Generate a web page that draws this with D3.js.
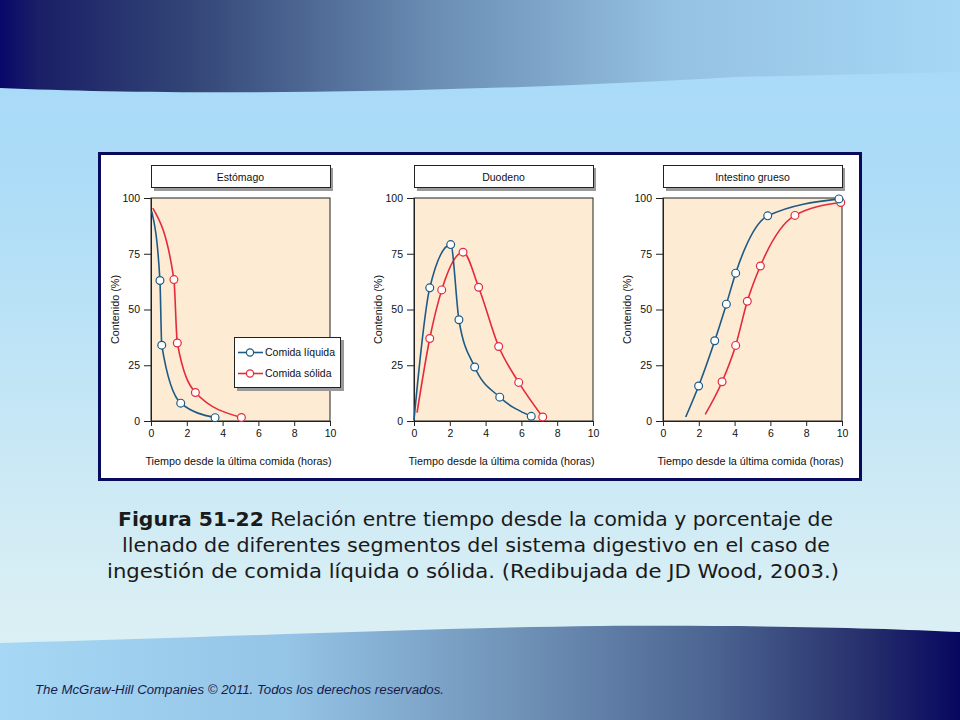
<!DOCTYPE html>
<html><head><meta charset="utf-8">
<script src="https://cdn.jsdelivr.net/npm/d3@7"></script>
<style>html,body{margin:0;padding:0;background:#a9dbf7;}svg{display:block;}</style>
</head><body>
<svg id="c" width="960" height="720"></svg>
<script>
// ---- data ----
const panelTitles = ["Estómago", "Duodeno", "Intestino grueso"];
const seriesNames = ["Comida líquida", "Comida sólida"];
const xTicks = [0, 2, 4, 6, 8, 10];
const yTicks = [0, 25, 50, 75, 100];
const xLabel = "Tiempo desde la última comida (horas)";
const yLabel = "Contenido (%)";

// curve start (no marker) then marked points [hours, %]
const stomachLiquidStart = [0.04, 94];
const stomachLiquid = [[0.5, 63], [0.6, 34], [1.66, 8], [3.58, 1.5]];
const stomachSolidStart = [0.1, 95.5];
const stomachSolid = [[1.28, 63.4], [1.47, 35], [2.48, 12.8], [5.05, 1.6]];

const duodenumLiquidStart = [0.0, 0.5];
const duodenumLiquid = [[0.88, 59.7], [2.05, 79.1], [2.51, 45.4], [3.39, 24.2], [4.79, 10.7], [6.55, 2.1]];
const duodenumSolidStart = [0.17, 3.7];
const duodenumSolid = [[0.88, 37], [1.55, 58.8], [2.74, 75.7], [3.61, 60], [4.73, 33.4], [5.85, 17.3], [7.19, 1.8]];

const colonLiquidStart = [1.27, 1.8];
const colonLiquid = [[1.99, 15.7], [2.89, 36], [3.54, 52.4], [4.06, 66.3], [5.85, 92], [9.83, 99.6]];
const colonSolidStart = [2.36, 3];
const colonSolid = [[3.3, 17.6], [4.06, 33.9], [4.71, 53.7], [5.44, 69.5], [7.37, 92.2], [9.93, 98]];

const captionBold = "Figura 51-22";
const captionLines = [
  " Relación entre tiempo desde la comida y porcentaje de",
  "llenado de diferentes segmentos del sistema digestivo en el caso de",
  "ingestión de comida líquida o sólida. (Redibujada de JD Wood, 2003.)"
];
const footer = "The McGraw-Hill Companies © 2011. Todos los derechos reservados.";

// ---- styles ----
const BLUE = "#1d5a86", RED = "#e52a3a";
const FONT = "'Liberation Sans', Arial, sans-serif";

const svg = d3.select("#c");
const defs = svg.append("defs");

// background
const bg = defs.append("linearGradient").attr("id", "bg").attr("x1", 0).attr("y1", 0).attr("x2", 0).attr("y2", 1);
bg.append("stop").attr("offset", "0").attr("stop-color", "#a7d9f7");
bg.append("stop").attr("offset", "0.25").attr("stop-color", "#acdcf7");
bg.append("stop").attr("offset", "0.85").attr("stop-color", "#daeff4");
bg.append("stop").attr("offset", "1").attr("stop-color", "#dcf0f4");
svg.append("rect").attr("width", 960).attr("height", 720).attr("fill", "url(#bg)");

const tg = defs.append("linearGradient").attr("id", "tg").attr("x1", 0).attr("y1", 0).attr("x2", 1).attr("y2", 0);
[["0", "#08086a"], ["0.04", "#1a1f66"], ["0.2", "#334677"], ["0.45", "#6a8db3"], ["0.7", "#95c1e2"], ["1", "#a6d8f6"]]
  .forEach(s => tg.append("stop").attr("offset", s[0]).attr("stop-color", s[1]));
svg.append("path").attr("d", "M0,0 L960,0 L960,72 L735,77 C420,95 170,95 0,88 Z").attr("fill", "url(#tg)");

const bgr = defs.append("linearGradient").attr("id", "bgr").attr("x1", 0).attr("y1", 0).attr("x2", 1).attr("y2", 0);
[["0", "#a6d8f5"], ["0.3", "#94c4e6"], ["0.55", "#6e90b5"], ["0.75", "#4a6290"], ["0.9", "#27306c"], ["1", "#07075f"]]
  .forEach(s => bgr.append("stop").attr("offset", s[0]).attr("stop-color", s[1]));
svg.append("path").attr("d", "M0,643 C200,638 420,628 600,626 C760,625 880,628 960,632 L960,720 L0,720 Z").attr("fill", "url(#bgr)");

// figure frame
svg.append("rect").attr("x", 99.5).attr("y", 153.5).attr("width", 761).attr("height", 326)
  .attr("fill", "#ffffff").attr("stroke", "#0a0a5c").attr("stroke-width", 3);

const panels = [
  { title: panelTitles[0], x0: 151, liquid: [stomachLiquidStart, ...stomachLiquid], liquidPts: stomachLiquid,
    solid: [stomachSolidStart, ...stomachSolid], solidPts: stomachSolid, legend: true },
  { title: panelTitles[1], x0: 414, liquid: [duodenumLiquidStart, ...duodenumLiquid], liquidPts: duodenumLiquid,
    solid: [duodenumSolidStart, ...duodenumSolid], solidPts: duodenumSolid, legend: false },
  { title: panelTitles[2], x0: 663, liquid: [colonLiquidStart, ...colonLiquid], liquidPts: colonLiquid,
    solid: [colonSolidStart, ...colonSolid], solidPts: colonSolid, legend: false }
];

const W = 179, TOP = 198, BOT = 421;

panels.forEach(p => {
  const g = svg.append("g");
  const x = d3.scaleLinear().domain([0, 10]).range([p.x0, p.x0 + W]);
  const y = d3.scaleLinear().domain([0, 100]).range([BOT, TOP]);

  // title box with shadow
  g.append("rect").attr("x", p.x0 + 3).attr("y", 168).attr("width", W).attr("height", 23).attr("fill", "#9a9a9a");
  g.append("rect").attr("x", p.x0 + 0.5).attr("y", 165.5).attr("width", W).attr("height", 22)
    .attr("fill", "#fff").attr("stroke", "#222").attr("stroke-width", 1);
  g.append("text").attr("x", p.x0 + W / 2).attr("y", 180.5).attr("text-anchor", "middle")
    .attr("font-family", FONT).attr("font-size", 10.5).attr("fill", "#111").text(p.title);

  // plot background
  g.append("rect").attr("x", p.x0).attr("y", TOP).attr("width", W).attr("height", BOT - TOP)
    .attr("fill", "#fdebd4").attr("stroke", "#222").attr("stroke-width", 1);

  // axes
  const ax = g.append("g").attr("transform", `translate(0,${BOT})`)
    .call(d3.axisBottom(x).tickValues(xTicks).tickSize(5).tickPadding(4).tickFormat(d3.format("d")));
  const ay = g.append("g").attr("transform", `translate(${p.x0},0)`)
    .call(d3.axisLeft(y).tickValues(yTicks).tickSize(7).tickPadding(4).tickFormat(d3.format("d")));
  [ax, ay].forEach(a => {
    a.select(".domain").attr("stroke", "#222");
    a.selectAll(".tick line").attr("stroke", "#222");
    a.selectAll("text").attr("font-family", FONT).attr("font-size", 10.5).attr("fill", "#111");
  });

  g.append("text").attr("x", p.x0 + W / 2 - 2).attr("y", 465).attr("text-anchor", "middle")
    .attr("font-family", FONT).attr("font-size", 10.8).attr("fill", "#111").text(xLabel);
  g.append("text").attr("transform", `translate(${p.x0 - 32},${(TOP + BOT) / 2}) rotate(-90)`)
    .attr("text-anchor", "middle").attr("font-family", FONT).attr("font-size", 10.8).attr("fill", "#111").text(yLabel);

  const line = d3.line().x(d => x(d[0])).y(d => y(d[1])).curve(d3.curveMonotoneX);
  [[p.solid, p.solidPts, RED], [p.liquid, p.liquidPts, BLUE]].forEach(([ln, pts, col]) => {
    g.append("path").attr("d", line(ln)).attr("fill", "none").attr("stroke", col).attr("stroke-width", 1.6);
    g.selectAll(null).data(pts).enter().append("circle")
      .attr("cx", d => x(d[0])).attr("cy", d => y(d[1])).attr("r", 3.9)
      .attr("fill", "#fff").attr("stroke", col).attr("stroke-width", 1.2);
  });

  if (p.legend) {
    const lx = 234, ly = 337;
    g.append("rect").attr("x", lx + 3).attr("y", ly + 3).attr("width", 107).attr("height", 51).attr("fill", "#9a9a9a");
    g.append("rect").attr("x", lx + 0.5).attr("y", ly + 0.5).attr("width", 106).attr("height", 50)
      .attr("fill", "#fff").attr("stroke", "#222").attr("stroke-width", 1);
    [[seriesNames[0], BLUE, 352.5], [seriesNames[1], RED, 373.5]].forEach(([name, col, yy]) => {
      g.append("line").attr("x1", lx + 4).attr("x2", lx + 29).attr("y1", yy).attr("y2", yy)
        .attr("stroke", col).attr("stroke-width", 1.6);
      g.append("circle").attr("cx", lx + 16).attr("cy", yy).attr("r", 3.6)
        .attr("fill", "#fff").attr("stroke", col).attr("stroke-width", 1.2);
      g.append("text").attr("x", lx + 31).attr("y", yy + 3.7)
        .attr("font-family", FONT).attr("font-size", 10.5).attr("fill", "#111").text(name);
    });
  }
});

// caption
const CF = "'DejaVu Sans', 'Noto Sans', sans-serif";
const cap = svg.append("g").attr("font-family", CF).attr("fill", "#1a1a1a").attr("font-size", 19);
const t1 = cap.append("text").attr("x", 118).attr("y", 526).attr("textLength", 715).attr("lengthAdjust", "spacingAndGlyphs");
t1.append("tspan").attr("font-weight", "bold").text(captionBold);
t1.append("tspan").text(captionLines[0]);
cap.append("text").attr("x", 122).attr("y", 552).attr("textLength", 708).attr("lengthAdjust", "spacingAndGlyphs").text(captionLines[1]);
cap.append("text").attr("x", 107).attr("y", 578).attr("textLength", 732).attr("lengthAdjust", "spacingAndGlyphs").text(captionLines[2]);

// footer
svg.append("text").attr("x", 35).attr("y", 694).attr("font-family", FONT).attr("font-style", "italic")
  .attr("font-size", 12).attr("fill", "#1a1a4a").attr("textLength", 409).attr("lengthAdjust", "spacingAndGlyphs").text(footer);
</script>
</body></html>
